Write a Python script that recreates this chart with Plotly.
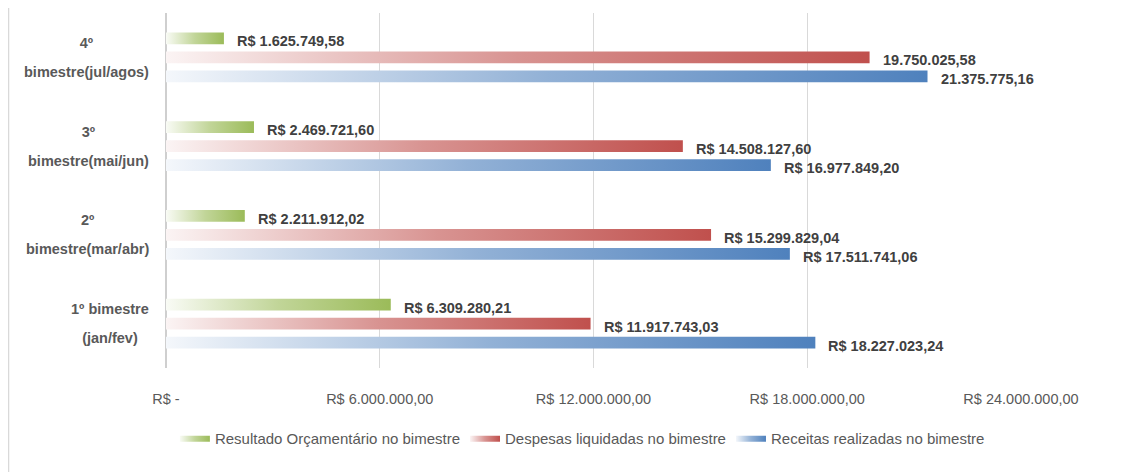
import plotly.graph_objects as go

# ---- data ----
cat_line1 = ["1º bimestre", "2º", "3º", "4º"]
cat_line2 = ["(jan/fev)", "bimestre(mar/abr)", "bimestre(mai/jun)", "bimestre(jul/agos)"]

series_names = ["Resultado Orçamentário no bimestre",
                "Despesas liquidadas no bimestre",
                "Receitas realizadas no bimestre"]
resultado = [6309280.21, 2211912.02, 2469721.60, 1625749.58]
despesas = [11917743.03, 15299829.04, 14508127.60, 19750025.58]
receitas = [18227023.24, 17511741.06, 16977849.20, 21375775.16]

resultado_labels = ["R$ 6.309.280,21", "R$ 2.211.912,02", "R$ 2.469.721,60", "R$ 1.625.749,58"]
despesas_labels = ["R$ 11.917.743,03", "R$ 15.299.829,04", "R$ 14.508.127,60", "19.750.025,58"]
receitas_labels = ["R$ 18.227.023,24", "R$ 17.511.741,06", "R$ 16.977.849,20", "21.375.775,16"]

tick_vals = [0, 6000000, 12000000, 18000000, 24000000]
tick_text = ["R$ -", "R$ 6.000.000,00", "R$ 12.000.000,00", "R$ 18.000.000,00", "R$ 24.000.000,00"]

# ---- style ----
FONT = "Liberation Sans, Arial, sans-serif"
scales = [
    [[0, "#f9fbf5"], [0.5, "#c1d598"], [1, "#9bbb59"]],
    [[0, "#fbf4f4"], [0.5, "#d89391"], [1, "#c0504d"]],
    [[0, "#f4f7fb"], [0.5, "#92b1d6"], [1, "#4f81bd"]],
]
legend_colors = ["#9bbb59", "#c0504d", "#4f81bd"]
offsets = [0.213, 0.0, -0.213]
half = 0.066

fig = go.Figure()
all_values = [resultado, despesas, receitas]
all_labels = [resultado_labels, despesas_labels, receitas_labels]

for s, (name, vals) in enumerate(zip(series_names, all_values)):
    for i, v in enumerate(vals):
        yc = i + offsets[s]
        fig.add_trace(go.Scatter(
            x=[0, v, v, 0, 0],
            y=[yc - half, yc - half, yc + half, yc + half, yc - half],
            mode="lines", fill="toself",
            line=dict(width=0, color=legend_colors[s]),
            fillcolor=legend_colors[s],
            fillgradient=dict(type="horizontal", colorscale=scales[s]),
            name=name, legendgroup=name, showlegend=(i == 0),
            hoverinfo="skip",
        ))

annotations = []
for s, (vals, labs) in enumerate(zip(all_values, all_labels)):
    for i, (v, lab) in enumerate(zip(vals, labs)):
        annotations.append(dict(
            x=v, y=i + offsets[s], xref="x", yref="y",
            text="<b>%s</b>" % lab, showarrow=False,
            xanchor="left", yanchor="middle", xshift=11, yshift=-3,
            font=dict(family=FONT, size=14.5, color="#404040"),
        ))

for i, (l1, l2) in enumerate(zip(cat_line1, cat_line2)):
    annotations.append(dict(
        x=-0.0175, y=i, xref="paper", yref="y",
        text="<span style='font-size:14.5px'><b>%s</b></span><br><span style='font-size:14.5px'><b>%s</b></span>" % (l1, l2),
        showarrow=False, xanchor="right", yanchor="middle", align="center",
        font=dict(family=FONT, size=22, color="#595959"),
    ))

fig.update_layout(
    width=1126, height=464,
    margin=dict(l=158, r=113, t=5, b=104),
    paper_bgcolor="white", plot_bgcolor="white",
    font=dict(family=FONT, size=14.5, color="#595959"),
    annotations=annotations,
    showlegend=True,
    legend=dict(orientation="h", x=0.487, xanchor="center", y=-0.197, yanchor="middle",
                font=dict(family=FONT, size=15, color="#595959"),
                traceorder="normal", itemwidth=30),
    hovermode=False,
    shapes=[dict(type="line", xref="paper", yref="paper", x0=-0.1842, x1=-0.1842,
                 y0=-0.3, y1=1.04, line=dict(color="#d9d9d9", width=1.5))],
)
fig.update_xaxes(range=[0, 24000000], tickvals=tick_vals, ticktext=tick_text,
                 showgrid=True, gridcolor="#d9d9d9", gridwidth=1,
                 zeroline=True, zerolinecolor="#cfcfcf", zerolinewidth=2,
                 showline=False, ticks="", ticklabelstandoff=20,
                 tickfont=dict(family=FONT, size=14.5, color="#595959"), fixedrange=True)
fig.update_yaxes(range=[-0.5, 3.5], showgrid=False, zeroline=False, showticklabels=False,
                 showline=False, fixedrange=True)

fig.write_html("out.html")
